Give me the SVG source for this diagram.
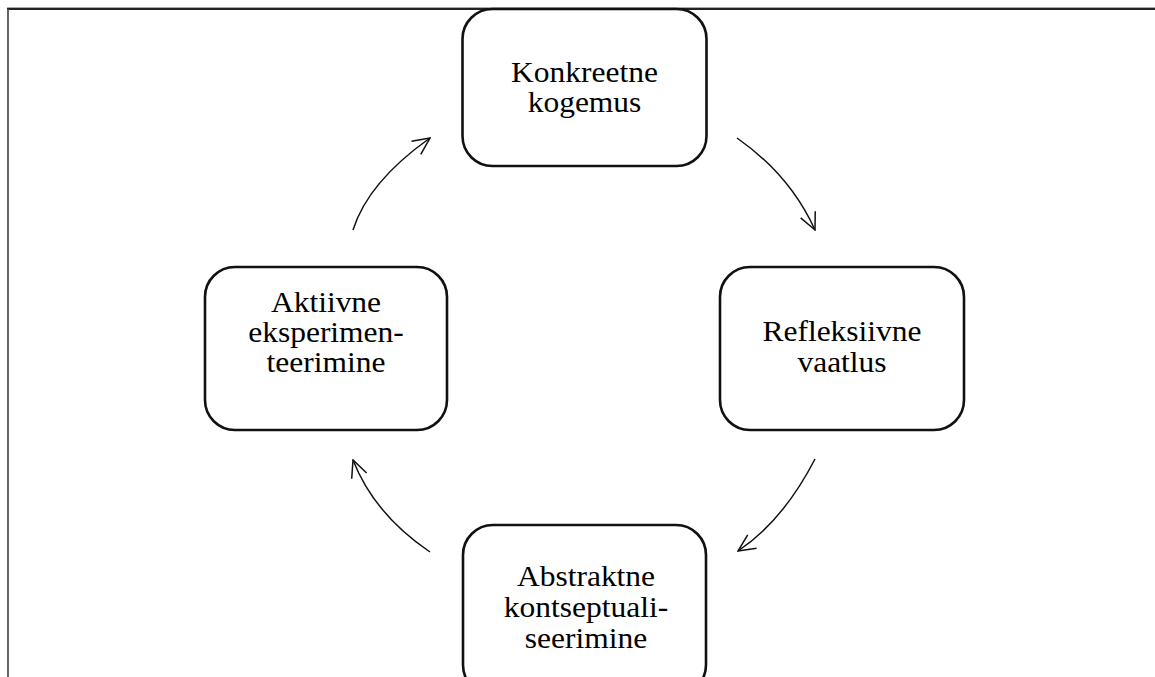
<svg xmlns="http://www.w3.org/2000/svg" width="1155" height="677" viewBox="0 0 1155 677">
<style>
.box{fill:#fff;stroke:#111;stroke-width:2.6}
.lbl{font-family:"Liberation Serif","Times New Roman",serif;font-size:30px;fill:#000;text-anchor:middle}
.arr{fill:none;stroke:#111;stroke-width:1.5;marker-end:url(#ah)}
</style>
<defs>
<marker id="ah" viewBox="0 0 20 20" refX="19" refY="10" markerWidth="20" markerHeight="20" markerUnits="userSpaceOnUse" orient="auto">
<path d="M2,2 L19,10 L2,18" fill="none" stroke="#111" stroke-width="1.5"/>
</marker>
</defs>
<rect width="1155" height="677" fill="#fff"/>
<g id="frame">
<line x1="7" y1="7.5" x2="1155" y2="7.5" stroke="#aaa" stroke-width="1"/>
<line x1="7" y1="9" x2="1155" y2="9" stroke="#222" stroke-width="1.8"/>
<line x1="8" y1="9" x2="8" y2="677" stroke="#555" stroke-width="1.8"/>
</g>
<g id="connectors">
<path class="arr" d="M737,138 Q790,175 815,230"/>
<path class="arr" d="M815,459 Q783,521 738,551"/>
<path class="arr" d="M430,552 Q374,514 353,460"/>
<path class="arr" d="M353,230 Q368,182 430,138"/>
</g>
<g id="node-konkreetne">
<rect class="box" x="462.5" y="9" width="244" height="157" rx="30"/>
<text class="lbl" transform="translate(584.5,0) scale(1.05,1)"><tspan x="0" y="82">Konkreetne</tspan><tspan x="0" y="112">kogemus</tspan></text>
</g>
<g id="node-refleksiivne">
<rect class="box" x="720" y="267" width="244" height="163" rx="30"/>
<text class="lbl" transform="translate(842,0) scale(1.05,1)"><tspan x="0" y="341">Refleksiivne</tspan><tspan x="0" y="372">vaatlus</tspan></text>
</g>
<g id="node-abstraktne">
<rect class="box" x="463" y="525" width="243" height="170" rx="30"/>
<text class="lbl" transform="translate(586,0) scale(1.05,1)"><tspan x="0" y="586">Abstraktne</tspan><tspan x="0" y="617">kontseptuali-</tspan><tspan x="0" y="648">seerimine</tspan></text>
</g>
<g id="node-aktiivne">
<rect class="box" x="205" y="267" width="242" height="163" rx="30"/>
<text class="lbl" transform="translate(326,0) scale(1.05,1)"><tspan x="0" y="312">Aktiivne</tspan><tspan x="0" y="342">eksperimen-</tspan><tspan x="0" y="372">teerimine</tspan></text>
</g>
</svg>
